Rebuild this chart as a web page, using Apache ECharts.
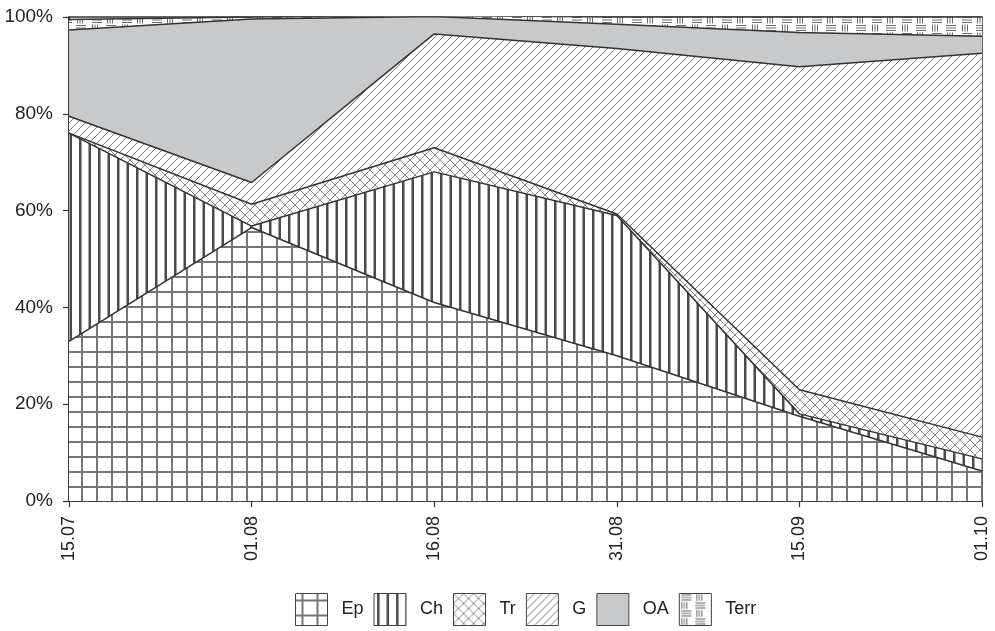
<!DOCTYPE html>
<html>
<head>
<meta charset="utf-8">
<script src="https://cdn.jsdelivr.net/npm/echarts@6/dist/echarts.min.js"></script>
<style>
  html, body { margin: 0; padding: 0; background: #fff; }
  #chart { width: 995px; height: 631px; }
</style>
</head>
<body>
<div id="chart"></div>
<script>
// ---- data ----
const categories = ['15.07', '01.08', '16.08', '31.08', '15.09', '01.10'];
const seriesNames = ['Ep', 'Ch', 'Tr', 'G', 'OA', 'Terr'];
const epValues   = [33.0, 56.5, 41.0, 30.0, 17.5, 6.2];
const chValues   = [43.0, 0.3, 27.0, 29.0, 0.5, 2.5];
const trValues   = [0.0, 4.5, 5.0, 0.3, 5.0, 4.5];
const gValues    = [3.5, 4.5, 23.5, 34.2, 66.7, 79.3];
const oaValues   = [17.8, 33.8, 3.6, 5.0, 7.1, 3.5];
const terrValues = [2.2, 0.4, 0.2, 1.5, 3.2, 4.0];
const yTicks = [0, 20, 40, 60, 80, 100];

// ---- patterns ----
function makeTile(w, h, draw) {
  const c = document.createElement('canvas');
  c.width = w; c.height = h;
  const ctx = c.getContext('2d');
  ctx.fillStyle = '#ffffff';
  ctx.fillRect(0, 0, w, h);
  draw(ctx, w, h);
  return { image: c, repeat: 'repeat' };
}
const patEp = makeTile(15, 15, (ctx) => {
  ctx.fillStyle = '#767676';
  ctx.fillRect(6, 0, 2, 15);
  ctx.fillRect(0, 6, 15, 2);
});
const patCh = makeTile(19, 10, (ctx) => {
  ctx.fillStyle = '#4a4a4a';
  ctx.fillRect(3, 0, 2.5, 10);
  ctx.fillRect(12.5, 0, 2.5, 10);
});
const patTr = makeTile(10, 10, (ctx) => {
  ctx.strokeStyle = '#8a8a8a';
  ctx.lineWidth = 1;
  ctx.beginPath();
  ctx.moveTo(0, 0); ctx.lineTo(10, 10);
  ctx.moveTo(0, 10); ctx.lineTo(10, 0);
  ctx.stroke();
});
const patG = makeTile(8, 8, (ctx) => {
  ctx.strokeStyle = '#6a6a6a';
  ctx.lineWidth = 0.9;
  ctx.beginPath();
  ctx.moveTo(-1, 9); ctx.lineTo(9, -1);
  ctx.moveTo(-1, 1); ctx.lineTo(1, -1);
  ctx.moveTo(7, 9); ctx.lineTo(9, 7);
  ctx.stroke();
});
const oaColor = '#c8c9cb';
const patTerr = makeTile(30, 16, (ctx) => {
  ctx.fillStyle = '#6a6a6a';
  for (let i = 0; i < 3; i++) ctx.fillRect(2, 1 + i * 2.5, 10, 1);
  for (let i = 0; i < 3; i++) ctx.fillRect(17 + i * 2.5, 0.5, 1, 7);
  for (let i = 0; i < 3; i++) ctx.fillRect(2 + i * 2.5, 8.5, 1, 7);
  for (let i = 0; i < 3; i++) ctx.fillRect(16, 9 + i * 2.5, 10, 1);
});
const patterns = [patEp, patCh, patTr, patG, oaColor, patTerr];
const valueLists = [epValues, chValues, trValues, gValues, oaValues, terrValues];

const FONT = '"Liberation Sans", Arial, Helvetica, sans-serif';

const chart = echarts.init(document.getElementById('chart'), null, { renderer: 'canvas' });

const series = seriesNames.map((name, i) => ({
  name: name,
  type: 'line',
  stack: 'total',
  data: valueLists[i],
  symbol: 'none',
  showSymbol: false,
  smooth: false,
  lineStyle: { color: '#333', width: 1.5 },
  itemStyle: { color: patterns[i] },
  areaStyle: { color: patterns[i], opacity: 1 },
  z: 2,
  emphasis: { disabled: true },
  animation: false
}));

chart.setOption({
  animation: false,
  backgroundColor: '#fff',
  grid: {
    left: 69, right: 13, top: 17, bottom: 130,
    show: true, borderColor: '#333', borderWidth: 1.5, backgroundColor: 'transparent'
  },
  legend: {
    left: 290,
    top: 588,
    itemWidth: 32,
    itemHeight: 32,
    itemGap: 10,
    selectedMode: false,
    textStyle: { fontFamily: FONT, fontSize: 18, color: '#222', padding: [0, 0, 0, 9] },
    data: seriesNames.map((n, i) => ({
      name: n,
      icon: 'rect',
      itemStyle: { color: patterns[i], borderColor: '#444', borderWidth: 1 }
    }))
  },
  xAxis: {
    type: 'category',
    data: categories,
    boundaryGap: false,
    axisLine: { show: true, lineStyle: { color: '#333', width: 1.5 } },
    axisTick: { show: true, length: 6, lineStyle: { color: '#333', width: 1.2 } },
    axisLabel: {
      rotate: 90, margin: 15, fontFamily: FONT, fontSize: 18, color: '#222'
    },
    splitLine: { show: false }
  },
  yAxis: {
    type: 'value',
    min: 0, max: 100, interval: 20,
    axisLine: { show: true, lineStyle: { color: '#333', width: 1.5 } },
    axisTick: { show: true, length: 6, lineStyle: { color: '#333', width: 1.2 } },
    axisLabel: {
      margin: 16, fontFamily: FONT, fontSize: 19, color: '#222',
      formatter: (v) => yTicks.includes(v) ? v + '%' : ''
    },
    splitLine: { show: false }
  },
  series: series
});
</script>
</body>
</html>
